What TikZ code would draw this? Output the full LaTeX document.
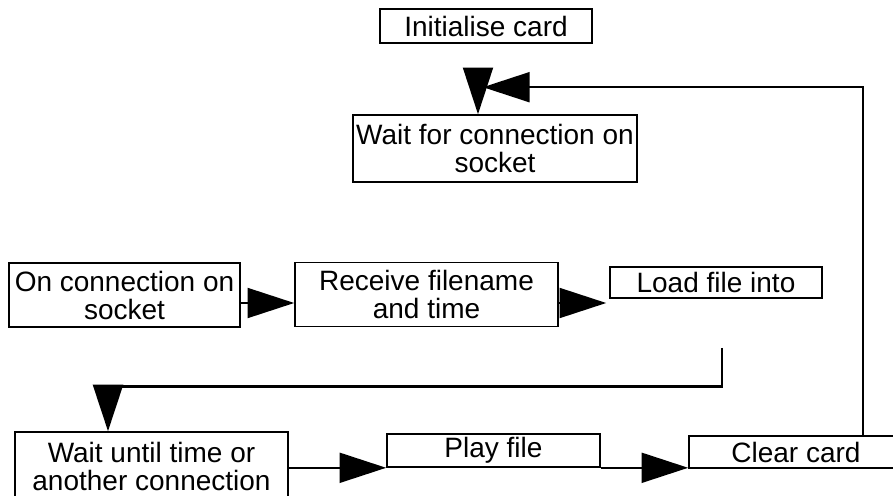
\documentclass[tikz,border=0pt]{standalone}
\usepackage{fontspec}
\setmainfont{Liberation Sans}
\usetikzlibrary{arrows.meta,calc}
\begin{document}
\begin{tikzpicture}[x=0.75pt,y=-0.75pt]
\tikzset{box/.style={draw,line width=1.2pt,inner sep=0pt,align=center,
                     font=\fontsize{21}{21}\selectfont},
         link/.style={line width=1.5pt,-{Triangle[length=35pt,width=22.5pt]}},
         thicklink/.style={link,line width=2pt}}
\useasboundingbox (0,0) rectangle (893,496);
\clip (0,0) rectangle (893,496);
\node[box,minimum width=159pt,minimum height=25.5pt] (init) at (486,26) {Initialise card};
\node[box,minimum width=213pt,minimum height=50.25pt] (wait) at (495,148.5) {Wait for connection on\\socket};
\node[box,minimum width=173.25pt,minimum height=48pt] (conn) at (124.5,295) {On connection on\\socket};
\node[box,minimum width=197.25pt,minimum height=48pt] (recv) at (426.5,294.5) {Receive filename\\and time};
\node[box,minimum width=159pt,minimum height=23.25pt] (load) at (716,282.5) {Load file into};
\node[box,minimum width=204.75pt,minimum height=51pt] (until) at (151.5,466) {Wait until time or\\another connection};
\node[box,minimum width=159.75pt,minimum height=24.75pt] (play) at (493.5,450.5) {Play file};
\node[box,minimum width=160.5pt,minimum height=24pt] (clear) at (796,452) {Clear card};
\draw[link,shorten <=19pt] ($(init.south)+(-8,0)$) -- ($(wait.north)+(-17,0)$);
\draw[link] ($(clear.north)+(67,0)$) |- ($(wait.north)+(-12,-27)$);
\draw[link] ($(conn.east)+(0,8)$) -- ($(recv.west)+(0,8.5)$);
\draw[link] ($(recv.east)+(0,8.5)$) -- ($(load.west)+(-3,20.5)$);
\draw[thicklink] ($(load.south)+(6,49)$) -- ++(0,39) -| ($(until.north)+(-43.5,0)$);
\draw[link] (until.east |- play.south west) -- (play.south west);
\draw[link] (play.south east) -- (play.south east -| clear.west);
\end{tikzpicture}
\end{document}
